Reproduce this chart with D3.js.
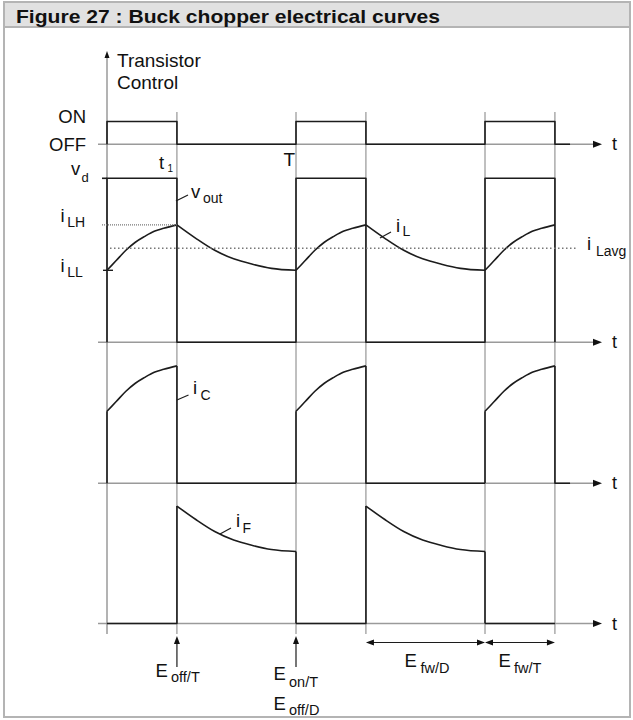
<!DOCTYPE html>
<html>
<head>
<meta charset="utf-8">
<script src="https://cdn.jsdelivr.net/npm/d3@7"></script>
<style>
  body { margin: 0; background: #fff; }
  text { font-family: "Liberation Sans", Arial, sans-serif; fill: #111; }
</style>
</head>
<body>
<div id="chart"></div>
<script>
'use strict'

// Switching instants (one period = 10 time units)
const onStart = [0, 10, 20];
const onEnd = [3.7, 13.7, 23.7];

// Inductor current (units of vd), time since switch
const riseT = [0, 0.5, 1, 1.5, 2, 2.5, 3, 3.7];
const riseI = [0.439, 0.50, 0.561, 0.61, 0.646, 0.677, 0.695, 0.716];
const fallT = [0, 1, 2, 3, 4, 5, 6.3];
const fallI = [0.716, 0.634, 0.561, 0.509, 0.476, 0.451, 0.439];

const vd = 1;
const iLH = 0.716;
const iLL = 0.439;
const iLavg = 0.573;

const W = 633, H = 720;

const svg = d3.select('#chart')
  .append('svg')
  .attr('width', W)
  .attr('height', H);

// Frame + title bar
svg.append('rect')
  .attr('x', 4).attr('y', 2).attr('width', 626).attr('height', 715)
  .attr('fill', '#fff').attr('stroke', '#b4b4b4').attr('stroke-width', 2);
svg.append('rect')
  .attr('x', 4).attr('y', 2).attr('width', 626).attr('height', 25)
  .attr('fill', '#e1e1e1').attr('stroke', '#b4b4b4').attr('stroke-width', 2);
svg.append('text')
  .attr('x', 16).attr('y', 22.5)
  .attr('font-size', 19).attr('font-weight', 'bold')
  .attr('textLength', 424).attr('lengthAdjust', 'spacingAndGlyphs')
  .text('Figure 27 : Buck chopper electrical curves');

// Scales
const x = d3.scaleLinear().domain([0, 10]).range([107, 296]);
const yCtrl = d3.scaleLinear().domain([0, 1]).range([144.3, 121.5]);
const panel = base => d3.scaleLinear().domain([0, 1]).range([base, base - 164]);
const yV = panel(342.3);
const yC = panel(483.3);
const yF = panel(623.5);
const bases = [144.3, 342.3, 483.3, 623.5];

const gridCol = '#808080';
const axisCol = '#9a9a9a';
const waveCol = '#1c1c1c';

// Vertical guide lines at every switching instant
const switches = onEnd.concat(onStart.slice(1)).sort(d3.ascending);
svg.append('g').selectAll('line')
  .data(switches)
  .join('line')
  .attr('x1', d => x(d)).attr('x2', d => x(d))
  .attr('y1', 112).attr('y2', 634)
  .attr('stroke', gridCol).attr('stroke-width', 1);

// Time axes with arrows
const axisEnd = 602;
bases.forEach(b => {
  svg.append('line')
    .attr('x1', 98).attr('x2', axisEnd - 6)
    .attr('y1', b).attr('y2', b)
    .attr('stroke', axisCol).attr('stroke-width', 1.6);
  svg.append('path')
    .attr('d', `M${axisEnd},${b} L${axisEnd - 9},${b - 3.5} L${axisEnd - 9},${b + 3.5} Z`)
    .attr('fill', '#111');
  svg.append('text')
    .attr('x', 612).attr('y', b + 6)
    .attr('font-size', 18)
    .text('t');
});

// Vertical axis
svg.append('line')
  .attr('x1', x(0)).attr('x2', x(0))
  .attr('y1', 634).attr('y2', 56)
  .attr('stroke', gridCol).attr('stroke-width', 1.2);
svg.append('path')
  .attr('d', `M${x(0)},51 L${x(0) - 2.5},58 L${x(0) + 2.5},58 Z`)
  .attr('fill', '#111');

const lin = d3.line().x(d => x(d[0]));
const smooth = d3.line().x(d => x(d[0])).curve(d3.curveMonotoneX);

function wave(points, yScale, curved) {
  const gen = curved ? smooth : lin;
  svg.append('path')
    .attr('d', gen.y(d => yScale(d[1]))(points))
    .attr('fill', 'none')
    .attr('stroke', waveCol)
    .attr('stroke-width', 1.6)
    .attr('stroke-linejoin', 'round');
}

const rise = t0 => riseT.map((t, i) => [t0 + t, riseI[i]]);
const fall = t0 => fallT.map((t, i) => [t0 + t, fallI[i]]);

// Panel 1: transistor control
const ctrl = [];
onStart.forEach((s, k) => {
  ctrl.push([s, 0], [s, 1], [onEnd[k], 1], [onEnd[k], 0]);
});
ctrl.push([24.5, 0]);
wave(ctrl, yCtrl, false);

// Panel 2: output voltage and inductor current
const vout = [];
onStart.forEach((s, k) => {
  vout.push([s, 0], [s, vd], [onEnd[k], vd], [onEnd[k], 0]);
  if (k < onStart.length - 1) vout.push([onStart[k + 1], 0]);
});
wave(vout, yV, false);
svg.append('line')
  .attr('x1', 102).attr('x2', x(0))
  .attr('y1', yV(vd)).attr('y2', yV(vd))
  .attr('stroke', waveCol).attr('stroke-width', 1.6);

onStart.forEach((s, k) => {
  wave(rise(s), yV, true);
  if (k < onStart.length - 1) wave(fall(onEnd[k]), yV, true);
});

// i_LH dotted guide, i_LL tick, i_Lavg dotted line
svg.append('line')
  .attr('x1', 102).attr('x2', x(onEnd[0]))
  .attr('y1', yV(iLH)).attr('y2', yV(iLH))
  .attr('stroke', '#777').attr('stroke-width', 1.2)
  .attr('stroke-dasharray', '1,1');
svg.append('line')
  .attr('x1', 103).attr('x2', 113)
  .attr('y1', yV(iLL)).attr('y2', yV(iLL))
  .attr('stroke', waveCol).attr('stroke-width', 1.4);
svg.append('line')
  .attr('x1', 110).attr('x2', 576)
  .attr('y1', yV(iLavg)).attr('y2', yV(iLavg))
  .attr('stroke', '#777').attr('stroke-width', 1.5)
  .attr('stroke-dasharray', '1.5,2.5');

// Panel 3: transistor current i_C
onStart.forEach((s, k) => {
  wave([[s, 0], [s, iLL]], yC, false);
  wave(rise(s), yC, true);
  const next = k < onStart.length - 1 ? onStart[k + 1] : 24.5;
  wave([[onEnd[k], iLH], [onEnd[k], 0], [next, 0]], yC, false);
});

// Panel 4: freewheel diode current i_F
onStart.forEach((s, k) => {
  if (k < onStart.length - 1) {
    wave([[s, 0], [onEnd[k], 0], [onEnd[k], iLH]], yF, false);
    wave(fall(onEnd[k]), yF, true);
    wave([[onStart[k + 1], iLL], [onStart[k + 1], 0]], yF, false);
  } else {
    wave([[s, 0], [onEnd[k], 0]], yF, false);
  }
});

// Labels
function label(tx, ty, main, size, sx, sy, sub, subSize) {
  svg.append('text').attr('x', tx).attr('y', ty)
    .attr('font-size', size).text(main);
  if (sub) {
    svg.append('text').attr('x', sx).attr('y', sy)
      .attr('font-size', subSize).text(sub);
  }
}
function leader(x1, y1, x2, y2) {
  svg.append('line')
    .attr('x1', x1).attr('y1', y1).attr('x2', x2).attr('y2', y2)
    .attr('stroke', waveCol).attr('stroke-width', 1.2);
}

label(117, 67, 'Transistor', 19);
label(117, 89, 'Control', 19);
svg.append('text').attr('x', 86).attr('y', 123).attr('font-size', 18.5)
  .attr('text-anchor', 'end').text('ON');
svg.append('text').attr('x', 86).attr('y', 151).attr('font-size', 18.5)
  .attr('text-anchor', 'end').text('OFF');
label(159, 169, 't', 18.5, 167.5, 171.5, '1', 10);
svg.append('text').attr('x', 295).attr('y', 166).attr('font-size', 19)
  .attr('text-anchor', 'end').text('T');
label(71, 175, 'v', 18.5, 81.5, 182, 'd', 13);
label(191, 198, 'v', 18.5, 203, 203, 'out', 14);
leader(x(onEnd[0]) - 1, 201, 188, 195);
label(60.5, 222, 'i', 18.5, 67.3, 227, 'LH', 14);
label(60.5, 272, 'i', 18.5, 67.3, 277, 'LL', 14);
label(396, 232, 'i', 18.5, 402.5, 236, 'L', 14);
leader(380, 238, 391, 232);
label(587, 250, 'i', 18.5, 596, 256, 'Lavg', 14);
label(193, 394, 'i', 18.5, 200.5, 400, 'C', 14);
leader(x(onEnd[0]), 400, 188.5, 395);
label(236, 527, 'i', 18.5, 242.5, 533, 'F', 14);
leader(220, 534, 231, 528);

// Energy arrows
function upArrow(xp) {
  svg.append('line')
    .attr('x1', xp).attr('x2', xp).attr('y1', 667).attr('y2', 642)
    .attr('stroke', waveCol).attr('stroke-width', 1.2);
  svg.append('path')
    .attr('d', `M${xp},636 L${xp - 3},644 L${xp + 3},644 Z`)
    .attr('fill', '#111');
}
upArrow(x(onEnd[0]));
upArrow(x(onStart[1]));

function spanArrow(t0, t1, yp) {
  const a = x(t0), b = x(t1);
  svg.append('line')
    .attr('x1', a + 6).attr('x2', b - 6).attr('y1', yp).attr('y2', yp)
    .attr('stroke', waveCol).attr('stroke-width', 1.2);
  svg.append('path')
    .attr('d', `M${a},${yp} L${a + 8},${yp - 3} L${a + 8},${yp + 3} Z M${b},${yp} L${b - 8},${yp - 3} L${b - 8},${yp + 3} Z`)
    .attr('fill', '#111');
}
spanArrow(onEnd[1], onStart[2], 642.5);
spanArrow(onStart[2], onEnd[2], 642.5);

label(155.5, 677, 'E', 18.5, 171, 682, 'off/T', 14.5);
label(273.5, 680, 'E', 18.5, 289, 687, 'on/T', 14.5);
label(273.5, 710, 'E', 18.5, 289, 715, 'off/D', 14.5);
label(404.5, 667, 'E', 18.5, 420.5, 673, 'fw/D', 14.5);
label(498.5, 667, 'E', 18.5, 514, 673, 'fw/T', 14.5);
</script>
</body>
</html>
